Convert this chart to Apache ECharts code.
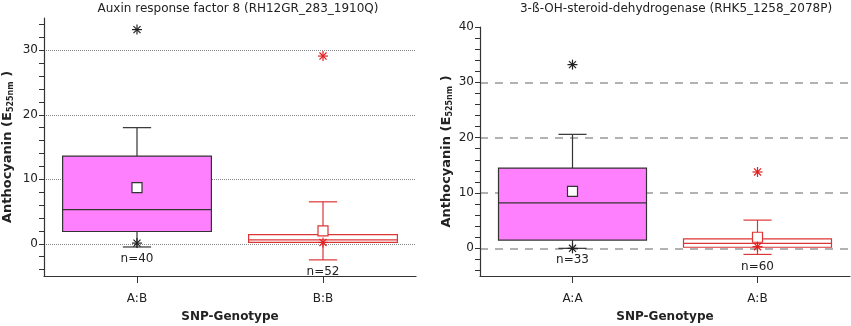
<!DOCTYPE html>
<html>
<head>
<meta charset="utf-8">
<script src="https://cdn.jsdelivr.net/npm/echarts@6/dist/echarts.min.js"></script>
<style>
html, body { margin: 0; padding: 0; background: #fff; }
#chart { width: 851px; height: 326px; }
</style>
</head>
<body>
<div id="chart"></div>
<script>
// 左图数据 (Auxin response factor 8)
var leftCategories = ['A:B', 'B:B'];
// [下须, Q1, 中位数, Q3, 上须]
var leftBoxes = [[-0.5, 1.9, 5.3, 13.6, 18.0], [-2.5, 0.2, 0.6, 1.4, 6.5]];
var leftMeans = [8.7, 2.0];
var leftCounts = [40, 52];
var leftOutliers = [[0, 33.2], [0, 0.1], [1, 29.1], [1, 0.2]];

// 右图数据 (3-ß-OH-steroid-dehydrogenase)
var rightCategories = ['A:A', 'A:B'];
var rightBoxes = [[0.0, 1.5, 8.2, 14.5, 20.6], [-1.1, 0.2, 0.9, 1.7, 5.1]];
var rightMeans = [10.3, 2.0];
var rightCounts = [33, 60];
var rightOutliers = [[0, 33.2], [0, 0.0], [1, 13.8], [1, 0.3]];

var yLabelValues = [0, 10, 20, 30];
var yLabelValuesRight = [0, 10, 20, 30, 40];
var yGridValues = [0, 10, 20, 30];
var yMinorValues = [-4, -2, 0, 2, 4, 6, 8, 10, 12, 14, 16, 18, 20, 22, 24, 26, 28, 30, 32, 34];
var yMinorValuesRight = yMinorValues.concat([36, 38, 40]);

var fills = ['#ff80ff', '#ffffff'];
var strokes = ['#333333', '#dc3535'];
var outlierColors = ['#222222', '#e02020'];

var chart = echarts.init(document.getElementById('chart'));

function buildBoxData(boxes, means, counts) {
	var out = [];
	for (var i = 0; i < boxes.length; i++) {
		out.push([i].concat(boxes[i]).concat([means[i], counts[i]]));
	}
	return out;
}

function renderBox(params, api) {
	var i = api.value(0);
	var lo = api.coord([i, api.value(1)]);
	var q1 = api.coord([i, api.value(2)]);
	var med = api.coord([i, api.value(3)]);
	var q3 = api.coord([i, api.value(4)]);
	var hi = api.coord([i, api.value(5)]);
	var mean = api.coord([i, api.value(6)]);
	var band = api.size([1, 0])[0];
	var bw = band * 0.8;
	var cw = band * 0.076;
	var cx = q1[0];
	var st = strokes[i];
	var lw = 1.2;
	return {
		type: 'group',
		children: [
			{ type: 'line', shape: { x1: cx, y1: q3[1], x2: cx, y2: hi[1] }, style: { stroke: st, lineWidth: lw } },
			{ type: 'line', shape: { x1: cx, y1: q1[1], x2: cx, y2: lo[1] }, style: { stroke: st, lineWidth: lw } },
			{ type: 'line', shape: { x1: cx - cw, y1: hi[1], x2: cx + cw, y2: hi[1] }, style: { stroke: st, lineWidth: lw } },
			{ type: 'line', shape: { x1: cx - cw, y1: lo[1], x2: cx + cw, y2: lo[1] }, style: { stroke: st, lineWidth: lw } },
			{ type: 'rect', shape: { x: cx - bw / 2, y: q3[1], width: bw, height: q1[1] - q3[1] }, style: { fill: fills[i], stroke: st, lineWidth: lw } },
			{ type: 'line', shape: { x1: cx - bw / 2, y1: med[1], x2: cx + bw / 2, y2: med[1] }, style: { stroke: st, lineWidth: lw } },
			{ type: 'rect', shape: { x: cx - 5, y: mean[1] - 5, width: 10, height: 10 }, style: { fill: '#ffffff', stroke: st, lineWidth: 1.2 } },
			{ type: 'text', x: cx, y: lo[1] + 12, style: { text: 'n=' + api.value(7), fill: '#222', font: '12px "DejaVu Sans"', align: 'center', verticalAlign: 'middle' } }
		]
	};
}

function renderStar(params, api) {
	var i = api.value(0);
	var p = api.coord([i, api.value(1)]);
	var r = 5;
	var d = r * 0.707;
	var s = { stroke: outlierColors[i], lineWidth: 1.2 };
	return {
		type: 'group',
		children: [
			{ type: 'line', shape: { x1: p[0] - r, y1: p[1], x2: p[0] + r, y2: p[1] }, style: s },
			{ type: 'line', shape: { x1: p[0], y1: p[1] - r, x2: p[0], y2: p[1] + r }, style: s },
			{ type: 'line', shape: { x1: p[0] - d, y1: p[1] - d, x2: p[0] + d, y2: p[1] + d }, style: s },
			{ type: 'line', shape: { x1: p[0] - d, y1: p[1] + d, x2: p[0] + d, y2: p[1] - d }, style: s }
		]
	};
}

function makeYAxis(idx, max, labels, minors, nameGap) {
	return {
		type: 'value',
		gridIndex: idx,
		min: -5,
		max: max,
		name: '{a|Anthocyanin (E}{s|525nm}{a| )}',
		nameLocation: 'middle',
		nameGap: nameGap,
		nameTextStyle: {
			rich: {
				a: { fontFamily: 'DejaVu Sans', fontWeight: 'bold', fontSize: 13, color: '#222' },
				s: { fontFamily: 'DejaVu Sans', fontWeight: 'bold', fontSize: 8, color: '#222', padding: [6, 0, 0, 0] }
			}
		},
		axisLine: { show: true, onZero: false, lineStyle: { color: '#333', width: 1.2 } },
		axisTick: { show: true, length: 5, customValues: minors, lineStyle: { color: '#333' } },
		axisLabel: { customValues: labels, color: '#222', fontFamily: 'DejaVu Sans', fontSize: 12, margin: 6 },
		splitLine: { show: false }
	};
}

// 只画网格线的辅助轴
function makeGridAxis(idx, max, splitStyle) {
	return {
		type: 'value',
		gridIndex: idx,
		min: -5,
		max: max,
		axisLine: { show: false, onZero: false },
		axisTick: { show: false, customValues: yGridValues },
		axisLabel: { show: false, customValues: yGridValues },
		splitLine: { show: true, lineStyle: splitStyle }
	};
}

function makeXAxis(idx, cats) {
	return {
		type: 'category',
		gridIndex: idx,
		data: cats,
		name: 'SNP-Genotype',
		nameLocation: 'middle',
		nameGap: 35,
		nameTextStyle: { fontFamily: 'DejaVu Sans', fontWeight: 'bold', fontSize: 12, color: '#222' },
		axisLine: { show: true, onZero: false, lineStyle: { color: '#333', width: 1.2 } },
		axisTick: { show: true, alignWithLabel: true, interval: 0, length: 7, lineStyle: { color: '#333' } },
		axisLabel: { color: '#222', fontFamily: 'DejaVu Sans', fontSize: 12, margin: 17 },
		splitLine: { show: false }
	};
}

var option = {
	animation: false,
	title: [
		{ text: 'Auxin response factor 8 (RH12GR_283_1910Q)', left: 233, top: -2, textAlign: 'center',
			textStyle: { fontFamily: 'DejaVu Sans', fontWeight: 'normal', fontSize: 12, color: '#222' } },
		{ text: '3-ß-OH-steroid-dehydrogenase (RHK5_1258_2078P)', left: 671, top: -2, textAlign: 'center',
			textStyle: { fontFamily: 'DejaVu Sans', fontWeight: 'normal', fontSize: 12, color: '#222' } }
	],
	grid: [
		{ left: 44, right: 435, top: 18, bottom: 50, outerBoundsMode: 'none', containLabel: false },
		{ left: 480, right: 1, top: 27, bottom: 50, outerBoundsMode: 'none', containLabel: false }
	],
	xAxis: [makeXAxis(0, leftCategories), makeXAxis(1, rightCategories)],
	yAxis: [
		makeYAxis(0, 35, yLabelValues, yMinorValues, 29),
		makeYAxis(1, 40, yLabelValuesRight, yMinorValuesRight, 26),
		makeGridAxis(0, 35, { color: '#888', type: 'dotted', width: 1 }),
		makeGridAxis(1, 40, { color: '#999', type: [8, 7], width: 1.5 })
	],
	series: [
		{ type: 'custom', xAxisIndex: 0, yAxisIndex: 0, renderItem: renderBox, data: buildBoxData(leftBoxes, leftMeans, leftCounts), z: 3 },
		{ type: 'custom', xAxisIndex: 0, yAxisIndex: 0, renderItem: renderStar, data: leftOutliers, z: 4 },
		{ type: 'custom', xAxisIndex: 1, yAxisIndex: 1, renderItem: renderBox, data: buildBoxData(rightBoxes, rightMeans, rightCounts), z: 3 },
		{ type: 'custom', xAxisIndex: 1, yAxisIndex: 1, renderItem: renderStar, data: rightOutliers, z: 4 }
	]
};
chart.setOption(option);
</script>
</body>
</html>
